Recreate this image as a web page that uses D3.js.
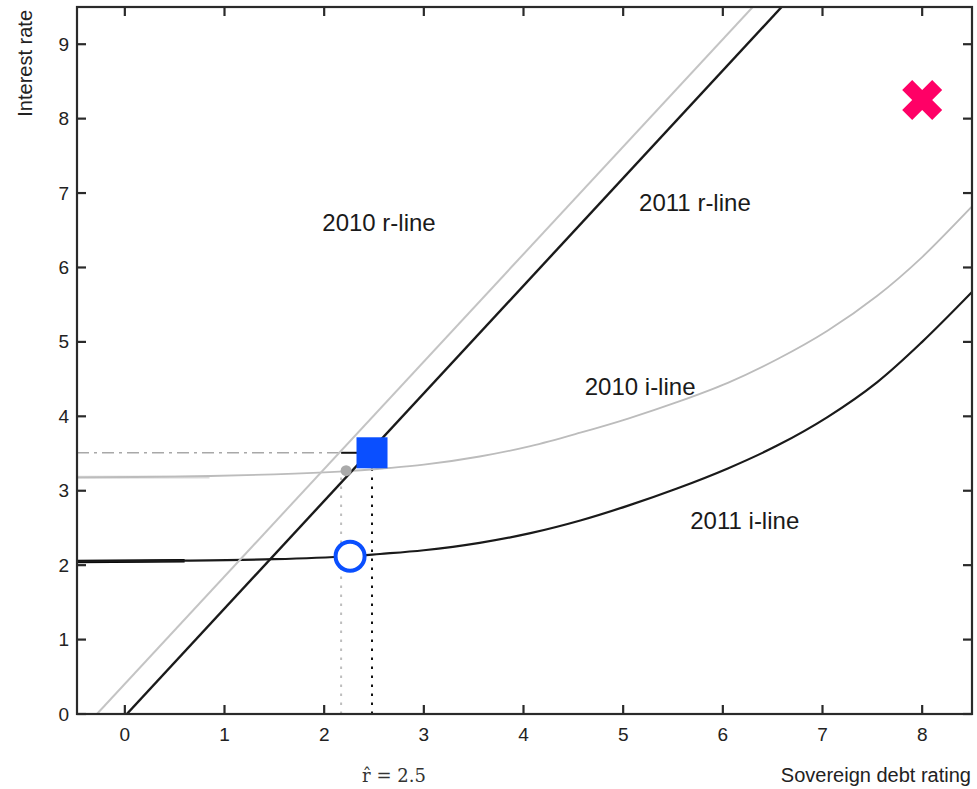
<!DOCTYPE html>
<html>
<head>
<meta charset="utf-8">
<script src="https://cdn.jsdelivr.net/npm/d3@7"></script>
<style>
  body { margin: 0; background: #fff; }
  svg { display: block; font-family: "Liberation Sans", Arial, sans-serif; }
</style>
</head>
<body>
<svg id="svg"></svg>
<script>
// data
const xTicks = [0, 1, 2, 3, 4, 5, 6, 7, 8];
const yTicks = [0, 1, 2, 3, 4, 5, 6, 7, 8, 9];
const rLine2010 = [[-0.28, 0], [6.30, 9.5]];
const rLine2011 = [[0.02, 0], [6.59, 9.5]];
const iLine2010 = [[-0.48, 3.18], [0.5, 3.19], [1.5, 3.22], [2.2, 3.26], [2.6, 3.30], [3.0, 3.35],
                   [3.56, 3.46], [4.07, 3.60], [4.57, 3.78], [5.05, 3.97], [5.54, 4.19], [6.05, 4.45],
                   [6.55, 4.77], [7.05, 5.15], [7.55, 5.62], [8.0, 6.14], [8.5, 6.82]];
const iLine2011 = [[-0.48, 2.05], [0.6, 2.06], [1.5, 2.08], [2.26, 2.12], [2.56, 2.15], [3.0, 2.20],
                   [3.56, 2.30], [4.07, 2.43], [4.57, 2.60], [5.05, 2.80], [5.54, 3.03], [6.05, 3.30],
                   [6.55, 3.61], [7.05, 3.99], [7.55, 4.46], [8.0, 5.00], [8.5, 5.67]];
const iLine2011Flat = [[-0.48, 2.05], [0.6, 2.06]];
const iLine2010Flat = [[-0.48, 3.18], [0.85, 3.185]];
const rHat = 2.48, rHatRate = 3.51;      // square
const rOld = 2.17, rOldRate = 3.27;      // grey dot / dotted line
const grayDot = [2.22, 3.27];
const circlePt = [2.26, 2.12];
const crossPt = [8.0, 8.25];
const lineLabels = [
  {text: '2010 r-line', x: 2.55, y: 6.6},
  {text: '2011 r-line', x: 5.72, y: 6.87},
  {text: '2010 i-line', x: 5.17, y: 4.4},
  {text: '2011 i-line', x: 6.22, y: 2.6}
];

// layout
const W = 977, H = 789;
const margin = {top: 7, right: 5, bottom: 75, left: 77};
const width = W - margin.left - margin.right;
const height = H - margin.top - margin.bottom;

const svg = d3.select('#svg').attr('width', W).attr('height', H);
const g = svg.append('g').attr('transform', `translate(${margin.left},${margin.top})`);

const x = d3.scaleLinear().domain([-0.48, 8.5]).range([0, width]);
const y = d3.scaleLinear().domain([0, 9.5]).range([height, 0]);

svg.append('defs').append('clipPath').attr('id', 'clip')
  .append('rect').attr('width', width).attr('height', height);

const plot = g.append('g').attr('clip-path', 'url(#clip)');
const line = d3.line().x(d => x(d[0])).y(d => y(d[1]));
const curve = d3.line().x(d => x(d[0])).y(d => y(d[1])).curve(d3.curveCatmullRom.alpha(0.5));

// helper lines
plot.append('path').attr('d', line([[-0.48, rHatRate], [rOld, rHatRate]]))
  .attr('fill', 'none').attr('stroke', '#a8a8a8').attr('stroke-width', 1.6)
  .attr('stroke-dasharray', '12,5,3,5');
plot.append('path').attr('d', line([[rOld, rHatRate], [rHat, rHatRate]]))
  .attr('fill', 'none').attr('stroke', '#111').attr('stroke-width', 2);
plot.append('path').attr('d', line([[rOld, 0], [rOld, rOldRate]]))
  .attr('fill', 'none').attr('stroke', '#bdbdbd').attr('stroke-width', 2)
  .attr('stroke-dasharray', '2.5,6.5');
plot.append('path').attr('d', line([[rHat, 0], [rHat, rHatRate]]))
  .attr('fill', 'none').attr('stroke', '#111').attr('stroke-width', 2)
  .attr('stroke-dasharray', '2.5,6.5');

// i-lines
plot.append('path').attr('d', line(iLine2010Flat))
  .attr('fill', 'none').attr('stroke', '#dcdcdc').attr('stroke-width', 3);
plot.append('path').attr('d', curve(iLine2010))
  .attr('fill', 'none').attr('stroke', '#bcbcbc').attr('stroke-width', 1.8);
plot.append('path').attr('d', line(iLine2011Flat))
  .attr('fill', 'none').attr('stroke', '#000').attr('stroke-width', 3.4);
plot.append('path').attr('d', curve(iLine2011))
  .attr('fill', 'none').attr('stroke', '#1a1a1a').attr('stroke-width', 2.2);

// r-lines
plot.append('path').attr('d', line(rLine2010))
  .attr('fill', 'none').attr('stroke', '#c4c4c4').attr('stroke-width', 2);
plot.append('path').attr('d', line(rLine2011))
  .attr('fill', 'none').attr('stroke', '#1a1a1a').attr('stroke-width', 2.4);

// markers
plot.append('circle').attr('cx', x(grayDot[0])).attr('cy', y(grayDot[1])).attr('r', 5.5)
  .attr('fill', '#aaaaaa');
plot.append('rect')
  .attr('x', x(rHat) - 15.5).attr('y', y(rHatRate) - 15.5)
  .attr('width', 31).attr('height', 31).attr('fill', '#0a4fff');
plot.append('circle').attr('cx', x(circlePt[0])).attr('cy', y(circlePt[1])).attr('r', 14.5)
  .attr('fill', '#fff').attr('stroke', '#0a4fff').attr('stroke-width', 4);
plot.append('path')
  .attr('d', d3.symbol(d3.symbolCross, 1000)())
  .attr('transform', `translate(${x(crossPt[0])},${y(crossPt[1])}) rotate(45)`)
  .attr('fill', '#ff0066');

// labels on lines
g.selectAll('text.lab').data(lineLabels).join('text')
  .attr('class', 'lab')
  .attr('x', d => x(d.x)).attr('y', d => y(d.y))
  .attr('text-anchor', 'middle').attr('dominant-baseline', 'central')
  .attr('font-size', 24).attr('fill', '#1a1a1a')
  .text(d => d.text);

// frame + ticks on all sides
const tickLen = 9;
g.append('rect').attr('width', width).attr('height', height)
  .attr('fill', 'none').attr('stroke', '#2a2a2a').attr('stroke-width', 2.2);

const ticks = g.append('g').attr('stroke', '#2a2a2a').attr('stroke-width', 2.2);
xTicks.forEach(t => {
  ticks.append('line').attr('x1', x(t)).attr('x2', x(t)).attr('y1', height).attr('y2', height - tickLen);
  ticks.append('line').attr('x1', x(t)).attr('x2', x(t)).attr('y1', 0).attr('y2', tickLen);
});
yTicks.forEach(t => {
  ticks.append('line').attr('x1', 0).attr('x2', tickLen).attr('y1', y(t)).attr('y2', y(t));
  ticks.append('line').attr('x1', width).attr('x2', width - tickLen).attr('y1', y(t)).attr('y2', y(t));
});

g.selectAll('text.xt').data(xTicks).join('text')
  .attr('class', 'xt')
  .attr('x', d => x(d)).attr('y', height + 20)
  .attr('text-anchor', 'middle').attr('dominant-baseline', 'central')
  .attr('font-size', 19).attr('fill', '#222')
  .text(d => d);

g.selectAll('text.yt').data(yTicks).join('text')
  .attr('class', 'yt')
  .attr('x', -8).attr('y', d => y(d))
  .attr('text-anchor', 'end').attr('dominant-baseline', 'central')
  .attr('font-size', 19).attr('fill', '#222')
  .text(d => d);

// axis titles
svg.append('text')
  .attr('transform', 'translate(32,10) rotate(-90)')
  .attr('text-anchor', 'end').attr('font-size', 20).attr('fill', '#222')
  .text('Interest rate');

svg.append('text')
  .attr('x', 971).attr('y', 782)
  .attr('text-anchor', 'end').attr('font-size', 20).attr('fill', '#222')
  .text('Sovereign debt rating');

svg.append('text')
  .attr('x', 394).attr('y', 782)
  .attr('text-anchor', 'middle').attr('font-size', 18)
  .attr('font-family', '"DejaVu Serif", "Liberation Serif", serif')
  .attr('fill', '#333')
  .text('r\u0302 = 2.5');
</script>
</body>
</html>
